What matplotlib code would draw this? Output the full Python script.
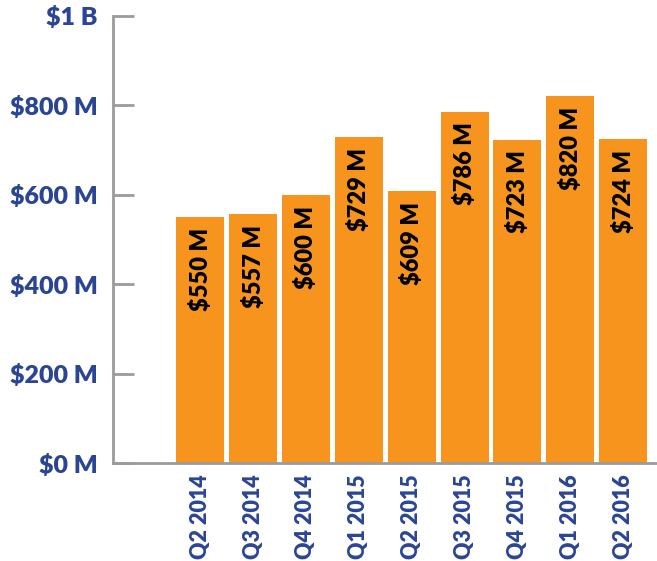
import matplotlib
matplotlib.use("Agg")
import matplotlib.pyplot as plt
import numpy as np

# quarterly totals, in millions of dollars
quarters = ["Q2 2014", "Q3 2014", "Q4 2014", "Q1 2015", "Q2 2015",
            "Q3 2015", "Q4 2015", "Q1 2016", "Q2 2016"]
totals = [550, 557, 600, 729, 609, 786, 723, 820, 724]
ytick_vals = [0, 200, 400, 600, 800, 1000]
ytick_labels = ["$0 M", "$200 M", "$400 M", "$600 M", "$800 M", "$1 B"]

orange = "#F7941D"
blue = "#2B4595"
grey = "#9B9B9B"

plt.rcParams["font.family"] = ["Lato", "DejaVu Sans"]

fig = plt.figure(figsize=(6.57, 5.61), dpi=100)
ax = fig.add_axes([113 / 657, (561 - 463) / 561, (657 - 113) / 657, 447 / 561])

x = np.arange(len(quarters))
bars = ax.bar(x, totals, width=0.91, color=orange, zorder=2)

# value label written downwards inside each bar, just below its top
for xi, v in zip(x, totals):
    ax.text(xi, v - 24, f"${v} M", rotation=90, ha="center", va="top",
            fontsize=17, fontweight="heavy", color="black", zorder=3)

ax.set_xlim(-1.65, 8.64)
ax.set_ylim(0, 1000)

ax.set_yticks(ytick_vals)
ax.set_yticklabels(ytick_labels, fontsize=18, fontweight="heavy", color=blue)
ax.tick_params(axis="y", direction="in", length=15, width=2, color=grey, pad=11)
ax.yaxis.get_major_ticks()[-1].tick1line.set_color("black")

ax.set_xticks(x)
ax.set_xticklabels(quarters, rotation=90, fontsize=15.5, fontweight="heavy", color=blue)
ax.tick_params(axis="x", length=0, pad=8)

for side in ["top", "right"]:
    ax.spines[side].set_visible(False)
for side in ["left", "bottom"]:
    ax.spines[side].set_color(grey)
    ax.spines[side].set_linewidth(2)

fig.savefig("out.png", dpi=100)
